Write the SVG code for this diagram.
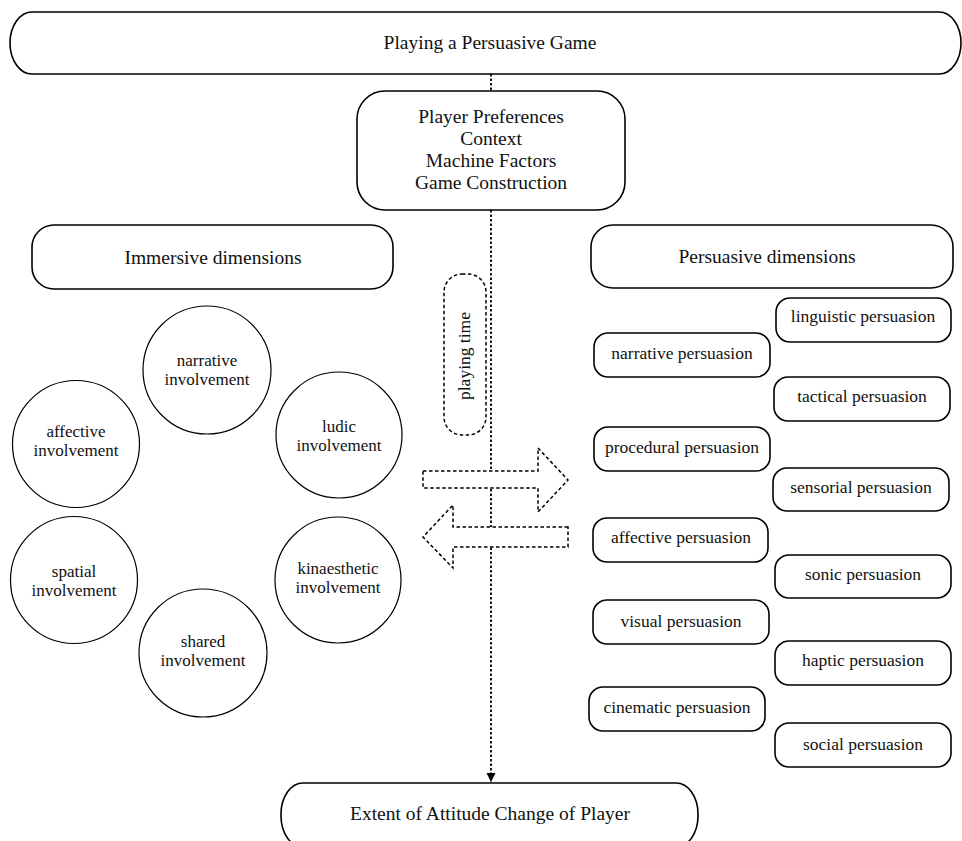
<svg xmlns="http://www.w3.org/2000/svg" width="962" height="841" viewBox="0 0 962 841">
<style>
  .box { fill: #fff; stroke: #000; stroke-width: 1.6; }
  .circ { fill: #fff; stroke: #000; stroke-width: 1.2; }
  .dash { fill: #fff; stroke: #000; stroke-width: 1.5; stroke-dasharray: 3.5 2.5; }
  .link { fill: none; stroke: #000; stroke-width: 1.8; stroke-dasharray: 2.5 2; }
  text { font-family: "Liberation Serif", "Times New Roman", serif; fill: #111; text-anchor: middle; }
  .hd { font-size: 19.5px; }
  .sm { font-size: 17.5px; }
  .ci { font-size: 17px; }
</style>
<defs>
  <marker id="ah" markerUnits="userSpaceOnUse" markerWidth="10" markerHeight="10" refX="9" refY="4.5" orient="auto">
    <path d="M0,0 L9,4.5 L0,9 Z" fill="#000"/>
  </marker>
</defs>
<rect width="962" height="841" fill="#fff"/>

<g id="connectors">
  <line class="link" x1="491" y1="74" x2="491" y2="91"/>
  <line class="link" x1="491" y1="210" x2="491" y2="782" marker-end="url(#ah)"/>
</g>

<g id="top">
  <rect class="box" x="10" y="12" width="951" height="62" rx="22" ry="31"/>
  <text class="hd" x="490" y="49">Playing a Persuasive Game</text>
</g>

<g id="factors">
  <rect class="box" x="357" y="91" width="268" height="119" rx="28" ry="28"/>
  <text class="hd" x="491" y="123">Player Preferences</text>
  <text class="hd" x="491" y="145">Context</text>
  <text class="hd" x="491" y="167">Machine Factors</text>
  <text class="hd" x="491" y="189">Game Construction</text>
</g>

<g id="immersive">
  <rect class="box" x="32" y="225" width="361" height="64" rx="22" ry="22"/>
  <text class="hd" x="213" y="264">Immersive dimensions</text>
</g>

<g id="persuasive">
  <rect class="box" x="591" y="225" width="362" height="63" rx="22" ry="22"/>
  <text class="hd" x="767" y="263">Persuasive dimensions</text>
</g>

<g id="playing-time">
  <rect class="dash" x="444" y="274" width="42" height="161" rx="18" ry="18"/>
  <text class="sm" x="470" y="356" transform="rotate(-90 470 356)">playing time</text>
</g>

<g id="arrow-right">
  <path class="dash" d="M423,471 L538,471 L538,448 L568,480 L538,512 L538,488 L423,488 Z"/>
</g>
<g id="arrow-left">
  <path class="dash" d="M568,527 L453,527 L453,505 L423,537 L453,568 L453,547 L568,547 Z"/>
</g>

<g id="narrative-involvement">
  <circle class="circ" cx="207" cy="370" r="64"/>
  <text class="ci" x="207" y="366">narrative</text>
  <text class="ci" x="207" y="385">involvement</text>
</g>
<g id="affective-involvement">
  <circle class="circ" cx="76" cy="444" r="63.5"/>
  <text class="ci" x="76" y="437">affective</text>
  <text class="ci" x="76" y="456">involvement</text>
</g>
<g id="ludic-involvement">
  <circle class="circ" cx="339" cy="435" r="63"/>
  <text class="ci" x="339" y="432">ludic</text>
  <text class="ci" x="339" y="451">involvement</text>
</g>
<g id="spatial-involvement">
  <circle class="circ" cx="74" cy="580" r="63.5"/>
  <text class="ci" x="74" y="577">spatial</text>
  <text class="ci" x="74" y="596">involvement</text>
</g>
<g id="kinaesthetic-involvement">
  <circle class="circ" cx="338" cy="580" r="63"/>
  <text class="ci" x="338" y="574">kinaesthetic</text>
  <text class="ci" x="338" y="593">involvement</text>
</g>
<g id="shared-involvement">
  <circle class="circ" cx="203" cy="653" r="64"/>
  <text class="ci" x="203" y="647">shared</text>
  <text class="ci" x="203" y="666">involvement</text>
</g>

<g id="linguistic-persuasion">
  <rect class="box" x="776" y="298" width="175" height="44" rx="14"/>
  <text class="sm" x="863" y="322">linguistic persuasion</text>
</g>
<g id="narrative-persuasion">
  <rect class="box" x="594" y="333" width="176" height="44" rx="14"/>
  <text class="sm" x="682" y="358.5">narrative persuasion</text>
</g>
<g id="tactical-persuasion">
  <rect class="box" x="774" y="377" width="176" height="44" rx="14"/>
  <text class="sm" x="862" y="402">tactical persuasion</text>
</g>
<g id="procedural-persuasion">
  <rect class="box" x="594" y="427" width="176" height="44" rx="14"/>
  <text class="sm" x="682" y="453">procedural persuasion</text>
</g>
<g id="sensorial-persuasion">
  <rect class="box" x="773" y="468" width="176" height="43" rx="14"/>
  <text class="sm" x="861" y="493">sensorial persuasion</text>
</g>
<g id="affective-persuasion">
  <rect class="box" x="593" y="518" width="175" height="44" rx="14"/>
  <text class="sm" x="681" y="543">affective persuasion</text>
</g>
<g id="sonic-persuasion">
  <rect class="box" x="775" y="555" width="176" height="43" rx="14"/>
  <text class="sm" x="863" y="579.5">sonic persuasion</text>
</g>
<g id="visual-persuasion">
  <rect class="box" x="593" y="600" width="176" height="44" rx="14"/>
  <text class="sm" x="681" y="627">visual persuasion</text>
</g>
<g id="haptic-persuasion">
  <rect class="box" x="775" y="641" width="176" height="44" rx="14"/>
  <text class="sm" x="863" y="666">haptic persuasion</text>
</g>
<g id="cinematic-persuasion">
  <rect class="box" x="589" y="687" width="176" height="44" rx="14"/>
  <text class="sm" x="677" y="713">cinematic persuasion</text>
</g>
<g id="social-persuasion">
  <rect class="box" x="775" y="723" width="176" height="44" rx="14"/>
  <text class="sm" x="863" y="749.5">social persuasion</text>
</g>

<g id="attitude-change">
  <rect class="box" x="281" y="783" width="417" height="64" rx="22" ry="31"/>
  <text class="hd" x="490" y="820">Extent of Attitude Change of Player</text>
</g>
</svg>
